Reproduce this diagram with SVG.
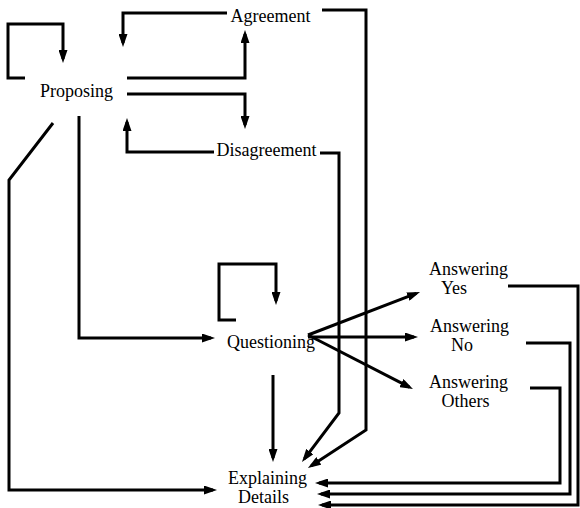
<svg xmlns="http://www.w3.org/2000/svg" width="580" height="508" viewBox="0 0 580 508">
<defs>
<marker id="ah" viewBox="0 0 13 9" refX="9" refY="4.5" markerWidth="13" markerHeight="9" orient="auto" markerUnits="userSpaceOnUse">
<path d="M0,0 L13,4.5 L0,9 Z" fill="#000"/>
</marker>
<style>
.c{fill:none;stroke:#000;stroke-width:3;stroke-linejoin:miter;marker-end:url(#ah)}
text{font-family:"Liberation Serif","Times New Roman",serif;font-size:18px;fill:#000;text-anchor:middle}
.t2{font-size:17px}
</style>
</defs>
<rect width="580" height="508" fill="#fff"/>
<g id="connectors">
<path class="c" d="M25,78 H8 V24 H63 V59"/>
<path class="c" d="M227,13 H123 V43"/>
<path class="c" d="M127,78 H245 V34"/>
<path class="c" d="M127,94 H245 V125"/>
<path class="c" d="M214,152 H127 V122"/>
<path class="c" d="M322,10 H366 V430 L311.3,465.8"/>
<path class="c" d="M320,153 H339 V413 L304.4,458.8"/>
<path class="c" d="M53,123 L9,180 V490 H213"/>
<path class="c" d="M79,116 V338 H211"/>
<path class="c" d="M236,320 H219 V264 H276 V301"/>
<path class="c" d="M308,335 L416.3,293.4"/>
<path class="c" d="M308,337 H414"/>
<path class="c" d="M308,335 L409.4,387.2"/>
<path class="c" d="M273,375 V458"/>
<path class="c" d="M508,286 H578 V505 H322"/>
<path class="c" d="M526,343 H570 V494 H321"/>
<path class="c" d="M530,388 H560 V483 H319"/>
</g>
<g id="proposing"><text x="76.5" y="97">Proposing</text></g>
<g id="agreement"><text x="270.5" y="22">Agreement</text></g>
<g id="disagreement"><text x="266.5" y="156">Disagreement</text></g>
<g id="questioning"><text x="271" y="348">Questioning</text></g>
<g id="answering-yes" class="t2"><text x="468.5" y="275">Answering</text><text x="454" y="294">Yes</text></g>
<g id="answering-no" class="t2"><text x="469.5" y="332">Answering</text><text x="462" y="351">No</text></g>
<g id="answering-others" class="t2"><text x="468.5" y="388">Answering</text><text x="465.5" y="407">Others</text></g>
<g id="explaining-details" class="t2"><text x="267.5" y="484">Explaining</text><text x="263.5" y="503">Details</text></g>
</svg>
